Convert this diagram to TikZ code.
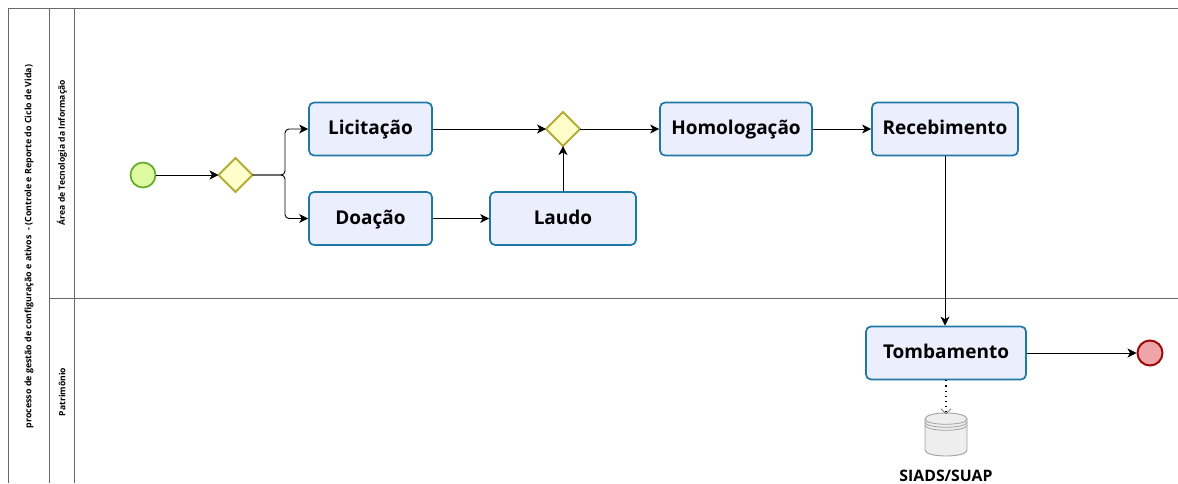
\documentclass[tikz,border=0pt]{standalone}
\usepackage{fontspec}
\setmainfont{Open Sans}
\usetikzlibrary{arrows.meta}
\tikzset{>={Stealth[length=9pt,width=9pt,inset=2.5pt]}}
\definecolor{taskblue}{RGB}{30,120,165}
\definecolor{taskarea}{RGB}{234,238,253}
\definecolor{gateline}{RGB}{178,172,50}
\definecolor{gatearea}{RGB}{255,255,204}
\definecolor{startline}{RGB}{98,170,40}
\definecolor{startarea}{RGB}{222,250,160}
\definecolor{endline}{RGB}{160,10,10}
\definecolor{endarea}{RGB}{238,165,170}
\definecolor{poolline}{RGB}{105,105,105}
\definecolor{dbline}{RGB}{160,160,160}
\definecolor{dbarea}{RGB}{238,238,238}
\tikzstyle{poolline}=[draw=poolline,line width=0.9pt]
\tikzstyle{lanetext}=[rotate=90,font=\fontsize{8.6}{10}\selectfont\bfseries,inner sep=0pt]
\tikzstyle{taskbox}=[draw=taskblue,fill=taskarea,line width=1.7pt,rounded corners=5pt,inner sep=0pt,minimum height=53pt,text height=14pt,text depth=3pt,font=\fontsize{19}{22}\selectfont\bfseries]
\tikzstyle{gateway}=[draw=gateline,fill=gatearea,line width=1.8pt,inner sep=0pt]
\tikzstyle{flowline}=[->,draw=black,line width=0.9pt]

\begin{document}
\begin{tikzpicture}[x=1pt,y=-1pt]
    \useasboundingbox (0,0) rectangle (1178,483);

    % pool and lanes
    \draw[poolline] (8,483) -- (8,8) -- (1178,8);
    \draw[poolline] (49,8) -- (49,483);
    \draw[poolline] (74,8) -- (74,483);
    \draw[poolline] (49,298) -- (1178,298);
    \node[lanetext,font=\fontsize{8.85}{10}\selectfont\bfseries] (pooltitle) at (29,246.5) {processo de gestão de configuração e ativos \ - (Controle e Reporte do Ciclo de Vida)};
    \node[lanetext] (laneti) at (62,152.5) {Área de Tecnologia da Informação};
    \node[lanetext] (lanepat) at (62,392) {Patrimônio};

    % events and gateways
    \node[circle,draw=startline,fill=startarea,line width=1.7pt,minimum size=25pt,inner sep=0pt] (start) at (143,175) {};
    \node[circle,draw=endline,fill=endarea,line width=2pt,minimum size=25pt,inner sep=0pt] (end) at (1150,353) {};
    \path[gateway] (235.5,158) -- (252.5,175) -- (235.5,192) -- (218.5,175) -- cycle;
    \path[gateway] (563,112) -- (580,129) -- (563,146) -- (546,129) -- cycle;
    \coordinate (gwaw) at (218.5,175);
    \coordinate (gwae) at (252.5,175);
    \coordinate (gwbw) at (546,129);
    \coordinate (gwbe) at (580,129);
    \coordinate (gwbs) at (563,146);

    % tasks
    \node[taskbox,minimum width=123pt] (licitacao) at (370.5,129) {Licitação};
    \node[taskbox,minimum width=123pt] (doacao) at (370.5,218.5) {Doação};
    \node[taskbox,minimum width=146pt] (laudo) at (563,218.5) {Laudo};
    \node[taskbox,minimum width=152pt] (homologacao) at (736,129) {Homologação};
    \node[taskbox,minimum width=146pt] (recebimento) at (945,129) {Recebimento};
    \node[taskbox,minimum width=160pt] (tombamento) at (946,353) {Tombamento};

    % flows
    \draw[flowline] (start) -- (gwaw);
    \draw[flowline,rounded corners=4pt] (gwae) -- (285,175) -- (285,129) -- (licitacao);
    \draw[flowline,rounded corners=4pt] (gwae) -- (285,175) -- (285,218.5) -- (doacao);
    \draw[flowline] (licitacao) -- (gwbw);
    \draw[flowline] (doacao) -- (laudo);
    \draw[flowline] (laudo) -- (gwbs);
    \draw[flowline] (gwbe) -- (homologacao);
    \draw[flowline] (homologacao) -- (recebimento);
    \draw[flowline] (recebimento) -- (tombamento.north -| recebimento);
    \draw[flowline] (tombamento) -- (end);

    % data store
    \draw[draw=dbline,fill=dbarea,line width=0.9pt] (925,419) -- (925,450) .. controls (925,458) and (967,458) .. (967,450) -- (967,419) .. controls (967,411) and (925,411) .. (925,419) -- cycle;
    \foreach \y in {419,422,425}{
      \draw[draw=dbline,line width=0.8pt] (925,\y) .. controls (925,\y+7) and (967,\y+7) .. (967,\y);
    }
    \coordinate (siadstop) at (946,414);
    \draw[line width=1.1pt,dash pattern=on 1.1pt off 4pt,-{Straight Barb[length=5pt,width=10pt,black!70,line width=0.6pt,round]}] (tombamento.south) -- (siadstop);
    \node[font=\fontsize{15.8}{18}\selectfont\bfseries,inner sep=0pt] (siads) at (946,476) {SIADS/SUAP};
\end{tikzpicture}
\end{document}
